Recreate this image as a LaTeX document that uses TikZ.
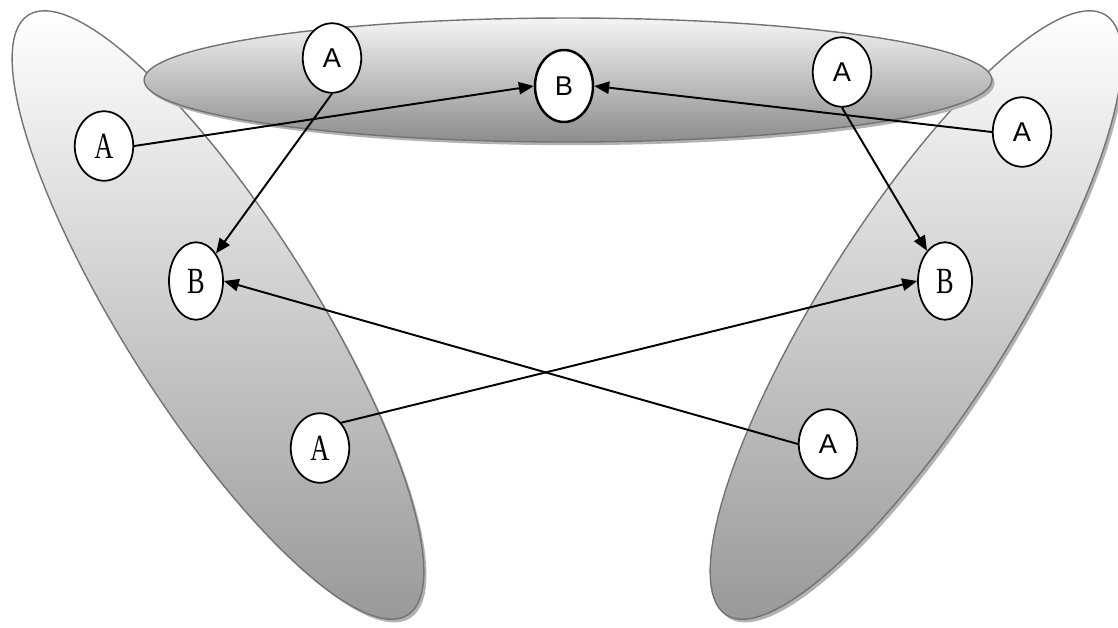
\documentclass[tikz,border=0pt]{standalone}
\usepackage{fontspec}
\usepackage{graphicx}
\usetikzlibrary{shapes.geometric,arrows.meta,shadows}
\newfontfamily\serifface{Liberation Serif}
\newfontfamily\sansface{Liberation Sans}
\newcommand{\tallglyph}[1]{\scalebox{1}[1.4]{#1}}

\begin{document}
\begin{tikzpicture}[
  x=0.02cm, y=-0.02cm,
  zone/.style={draw=black!55, line width=0.8pt, top color=white, bottom color=black!40,
               drop shadow={shadow xshift=1.5pt, shadow yshift=-1.8pt, fill=black!30, opacity=1}},
  topzone/.style={zone, top color=white!96!black, bottom color=black!45},
  elem/.style={ellipse, draw, fill=white, line width=1pt, inner sep=0pt},
  anode/.style={elem, minimum width=1.17cm, minimum height=1.39cm},
  bnode/.style={elem, minimum width=1.08cm, minimum height=1.55cm},
  rmtext/.style={font=\serifface\fontsize{15}{16}\selectfont},
  sftext/.style={font=\sansface\fontsize{15.5}{16}\selectfont},
  arr/.style={-{Triangle[length=8.5pt,width=7pt]}, line width=1.1pt}
]
\useasboundingbox (0,0) rectangle (1118,627);

%% ---- Zones ----
\draw[zone] plot[domain=0:360, samples=121, variable=\t]
  ({218+189.6*cos(\t)+80.3*sin(\t)}, {315+300.0*cos(\t)-50.7*sin(\t)}) -- cycle;
\draw[zone] plot[domain=0:360, samples=121, variable=\t]
  ({916-189.6*cos(\t)-80.3*sin(\t)}, {315+300.0*cos(\t)-50.7*sin(\t)}) -- cycle;
\draw[topzone] (568,80) ellipse [x radius=8.48cm, y radius=1.24cm];

%% ---- Top zone ----
\node[anode, sftext] (atl) at (332,58) {A};
\node[bnode, sftext, line width=1.4pt, minimum width=1.16cm, minimum height=1.44cm]
  (btop) at (564,86) {B};
\node[anode, sftext] (atr) at (842,72) {A};

%% ---- Left zone ----
\node[anode, rmtext] (aleft) at (104,146) {\tallglyph{A}};
\node[bnode, rmtext] (bleft) at (196,281) {\tallglyph{B}};
\node[anode, rmtext] (alow)  at (320,448) {\tallglyph{A}};

%% ---- Right zone ----
\node[anode, sftext] (aright) at (1022,132) {A};
\node[bnode, rmtext] (bright) at (945,281) {\tallglyph{B}};
\node[anode, sftext] (alowr)  at (828,444) {A};

%% ---- Arrows ----
\draw[arr] (aleft.east)  -- (btop.west);
\draw[arr] (aright.west) -- (btop.east);
\draw[arr] (atl.south)   -- (bleft);
\draw[arr] (atr.south)   -- (bright);
% crossing pair
\draw[arr] (alow.50)     -- (bright.west);
\draw[arr] (alowr.west)  -- (bleft.east);
\end{tikzpicture}
\end{document}
